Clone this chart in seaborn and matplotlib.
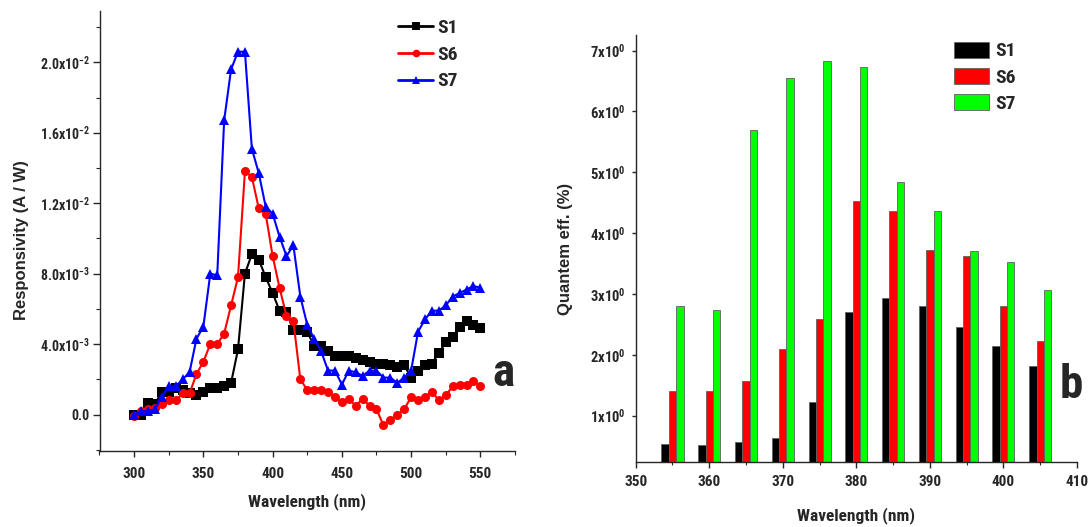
import numpy as np
import pandas as pd
import seaborn as sns
import matplotlib
matplotlib.use("Agg")
import matplotlib.pyplot as plt
from matplotlib.lines import Line2D
from matplotlib.patches import Patch
from matplotlib.ticker import MultipleLocator, FixedLocator, FixedFormatter

# ---------------- data ----------------
wavelength_a = list(range(300, 551, 5))
s1_resp = [0.0000, 0.0000, 0.00067, 0.0006, 0.0013, 0.0013, 0.0015, 0.0014, 0.0012, 0.0011,
           0.0013, 0.0015, 0.0015, 0.0016, 0.0018, 0.0037, 0.0080, 0.0091, 0.0088, 0.0078,
           0.0069, 0.0059, 0.0058, 0.0048, 0.0048, 0.0047, 0.0039, 0.0039, 0.0036, 0.0033,
           0.0033, 0.0033, 0.0032, 0.0031, 0.0030, 0.0029, 0.0029, 0.0028, 0.0027, 0.0028,
           0.0021, 0.0025, 0.0028, 0.0029, 0.0035, 0.0041, 0.0044, 0.0050, 0.0053, 0.0051,
           0.0049]
s6_resp = [-0.0001, 0.0002, 0.0003, 0.0004, 0.0006, 0.0008, 0.0008, 0.0012, 0.0012, 0.0023,
           0.0030, 0.0040, 0.0040, 0.0046, 0.0062, 0.0078, 0.0138, 0.0135, 0.0117, 0.0114,
           0.0090, 0.0072, 0.0056, 0.0053, 0.0020, 0.0014, 0.0014, 0.0014, 0.0013, 0.0010,
           0.0007, 0.0009, 0.0005, 0.0009, 0.0005, 0.0003, -0.0006, -0.0003, 0.0000, 0.0003,
           0.0010, 0.0008, 0.0010, 0.0013, 0.0008, 0.0011, 0.0016, 0.0017, 0.0017, 0.0019,
           0.0016]
s7_resp = [0.0000, 0.0002, 0.0002, 0.0003, 0.0010, 0.0016, 0.0016, 0.0020, 0.0024, 0.0043,
           0.0050, 0.0080, 0.0079, 0.0167, 0.0196, 0.0206, 0.0206, 0.0151, 0.0137, 0.0118,
           0.0114, 0.0101, 0.0090, 0.0096, 0.0067, 0.0051, 0.0043, 0.0036, 0.0025, 0.0025,
           0.0017, 0.0025, 0.0024, 0.0022, 0.0025, 0.0025, 0.0021, 0.0021, 0.0018, 0.0021,
           0.0025, 0.0047, 0.0054, 0.0059, 0.0059, 0.0062, 0.0067, 0.0069, 0.0071, 0.0073,
           0.0072]

wavelength_b = [355, 360, 365, 370, 375, 380, 385, 390, 395, 400, 405]
s1_qe = [0.53, 0.52, 0.57, 0.63, 1.22, 2.70, 2.93, 2.80, 2.45, 2.15, 1.82]
s6_qe = [1.41, 1.40, 1.57, 2.09, 2.59, 4.53, 4.36, 3.73, 3.62, 2.80, 2.23]
s7_qe = [2.80, 2.74, 5.69, 6.55, 6.82, 6.73, 4.84, 4.37, 3.71, 3.52, 3.06]

samples = ["S1", "S6", "S7"]
line_colors = {"S1": "#000000", "S6": "#ff0000", "S7": "#0000ff"}
line_markers = {"S1": "s", "S6": "o", "S7": "^"}
bar_colors = {"S1": "#000000", "S6": "#ff0000", "S7": "#00ff00"}

x_ticks_a = [300, 350, 400, 450, 500, 550]
y_ticks_a = [0.0, 0.004, 0.008, 0.012, 0.016, 0.020]
y_labels_a = ["0.0", r"4.0x10$^{-3}$", r"8.0x10$^{-3}$", r"1.2x10$^{-2}$",
              r"1.6x10$^{-2}$", r"2.0x10$^{-2}$"]
x_ticks_b = [350, 360, 370, 380, 390, 400, 410]
x_labels_b = ["350", "360", "370", "380", "390", "400", "410"]
y_ticks_b = [1, 2, 3, 4, 5, 6, 7]
y_labels_b = [r"1x10$^{0}$", r"2x10$^{0}$", r"3x10$^{0}$", r"4x10$^{0}$",
              r"5x10$^{0}$", r"6x10$^{0}$", r"7x10$^{0}$"]

# ---------------- style ----------------
sns.set_style("ticks")
NARROW = ["Roboto Condensed", "Liberation Sans Narrow", "Liberation Sans", "DejaVu Sans"]
WIDE = ["Liberation Sans", "DejaVu Sans"]
plt.rcParams["font.family"] = NARROW
plt.rcParams["font.weight"] = "bold"
plt.rcParams["mathtext.default"] = "regular"

df_a = pd.DataFrame({
    "wl": wavelength_a * 3,
    "resp": s1_resp + s6_resp + s7_resp,
    "sample": ["S1"] * len(wavelength_a) + ["S6"] * len(wavelength_a) + ["S7"] * len(wavelength_a),
})
df_b = pd.DataFrame({
    "wl": wavelength_b * 3,
    "qe": s1_qe + s6_qe + s7_qe,
    "sample": ["S1"] * len(wavelength_b) + ["S6"] * len(wavelength_b) + ["S7"] * len(wavelength_b),
})

W, H = 1089.0, 527.0
fig = plt.figure(figsize=(10.89, 5.27), dpi=100)
def px_rect(l, t, r, b):
    return [l / W, 1 - b / H, (r - l) / W, (b - t) / H]

ax1 = fig.add_axes(px_rect(99.5, 11.2, 515.0, 450.7))
ax2 = fig.add_axes(px_rect(635.7, 35.3, 1077.0, 461.7))

# ---------------- panel a ----------------
for s in samples:
    sub = df_a[df_a["sample"] == s]
    sns.lineplot(data=sub, x="wl", y="resp", ax=ax1, color=line_colors[s],
                 marker=line_markers[s], markersize=6.5, markeredgewidth=0,
                 linewidth=1.5, legend=False)
ax1.set_xlim(275, 575)
ax1.set_ylim(-0.00205, 0.0229)
ax1.xaxis.set_major_locator(FixedLocator(x_ticks_a))
ax1.xaxis.set_minor_locator(MultipleLocator(25))
ax1.yaxis.set_major_locator(FixedLocator(y_ticks_a))
ax1.yaxis.set_major_formatter(FixedFormatter(y_labels_a))
ax1.yaxis.set_minor_locator(MultipleLocator(0.002))
ax1.set_xlabel("Wavelength (nm)", fontsize=12.5, fontweight="bold")
ax1.set_ylabel("Responsivity (A / W)", fontsize=12, fontweight="bold", family=WIDE)
ax1.xaxis.set_label_coords(0.5, -0.096)
ax1.yaxis.set_label_coords(-0.17, 0.48)
ax1.tick_params(axis="x", which="major", direction="out", length=4.5, width=1,
                labelsize=11, pad=7)
ax1.tick_params(axis="y", which="major", direction="out", length=5, width=1,
                labelsize=10, pad=2)
ax1.tick_params(axis="both", which="minor", direction="out", length=3, width=0.8)
for sp in ["top", "right"]:
    ax1.spines[sp].set_visible(False)
for sp in ["left", "bottom"]:
    ax1.spines[sp].set_linewidth(1.0)

handles_a = [Line2D([0], [0], color=line_colors[s], marker=line_markers[s],
                    markersize=5.5, linewidth=2.0, markeredgewidth=0) for s in samples]
fig.legend(handles_a, samples, loc="upper left", bbox_to_anchor=(398 / W, 1 - 19.0 / H),
           frameon=False, fontsize=14, handlelength=1.8, handletextpad=0.2,
           labelspacing=0.45, borderaxespad=0, borderpad=0)
fig.text(503.6 / W, 1 - 385.6 / H, "a", fontsize=34, fontweight="bold",
         ha="center", va="baseline")

# ---------------- panel b ----------------
sns.barplot(data=df_b, x="wl", y="qe", hue="sample", hue_order=samples,
            palette=bar_colors, saturation=1, native_scale=True, width=0.6, dodge=True,
            edgecolor="#606060", linewidth=0.6, ax=ax2, legend=False, errorbar=None)
ax2.set_xlim(350, 410)
ax2.set_ylim(0.245, 7.25)
ax2.xaxis.set_major_locator(FixedLocator(x_ticks_b))
ax2.xaxis.set_major_formatter(FixedFormatter(x_labels_b))
ax2.xaxis.set_minor_locator(MultipleLocator(5))
ax2.yaxis.set_major_locator(FixedLocator(y_ticks_b))
ax2.yaxis.set_major_formatter(FixedFormatter(y_labels_b))
ax2.set_xlabel("Wavelength (nm)", fontsize=12.5, fontweight="bold")
ax2.set_ylabel("Quantem eff. (%)", fontsize=12, fontweight="bold", family=WIDE)
ax2.xaxis.set_label_coords(0.5, -0.107)
ax2.yaxis.set_label_coords(-0.142, 0.5)
ax2.tick_params(axis="x", which="major", direction="out", length=4, width=1,
                labelsize=11, pad=5.5)
ax2.tick_params(axis="y", which="major", direction="out", length=3, width=1,
                labelsize=10.5, pad=4)
ax2.tick_params(axis="x", which="minor", direction="out", length=2.5, width=0.8)
for sp in ["top", "right"]:
    ax2.spines[sp].set_visible(False)
for sp in ["left", "bottom"]:
    ax2.spines[sp].set_linewidth(1.0)

handles_b = [Patch(facecolor=bar_colors[s], edgecolor="#606060", linewidth=0.6) for s in samples]
fig.legend(handles_b, samples, loc="upper left", bbox_to_anchor=(954 / W, 1 - 41.5 / H),
           frameon=False, fontsize=14, handlelength=1.8, handleheight=0.91,
           handletextpad=0.3, labelspacing=0.38, borderaxespad=0, borderpad=0)
fig.text(1071 / W, 1 - 398.3 / H, "b", fontsize=34, fontweight="bold",
         ha="center", va="baseline")

fig.savefig("out.png", dpi=100)
